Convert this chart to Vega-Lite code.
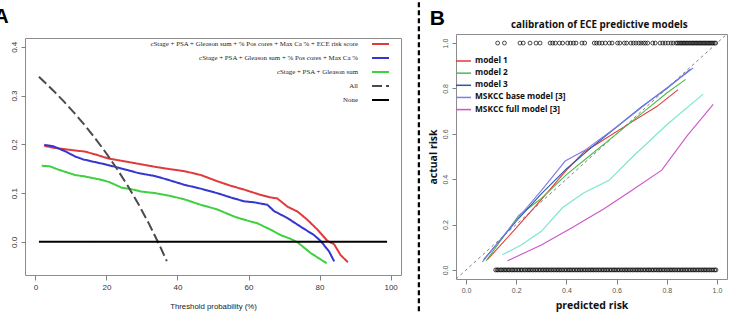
{
  "$schema": "https://vega.github.io/schema/vega-lite/v6.json",
  "padding": {"left": -7, "top": 0, "right": 0, "bottom": 0},
  "background": "white",
  "bounds": "flush",
  "center": true,
  "spacing": 55,
  "resolve": {
    "scale": {"color": "independent", "strokeDash": "independent", "strokeWidth": "independent"},
    "legend": {"color": "independent", "strokeDash": "independent"}
  },
  "config": {
    "view": {"stroke": "#8c8c8c", "strokeWidth": 1},
    "axis": {"grid": false, "domain": false}
  },
  "datasets": {
    "decision": [
      {"series": "cStage + PSA + Gleason sum + % Pos cores + Max Ca % + ECE risk score", "t": 2.5, "nb": 0.197},
      {"series": "cStage + PSA + Gleason sum + % Pos cores + Max Ca % + ECE risk score", "t": 5, "nb": 0.193},
      {"series": "cStage + PSA + Gleason sum + % Pos cores + Max Ca % + ECE risk score", "t": 9.3, "nb": 0.189},
      {"series": "cStage + PSA + Gleason sum + % Pos cores + Max Ca % + ECE risk score", "t": 14, "nb": 0.185},
      {"series": "cStage + PSA + Gleason sum + % Pos cores + Max Ca % + ECE risk score", "t": 17, "nb": 0.179},
      {"series": "cStage + PSA + Gleason sum + % Pos cores + Max Ca % + ECE risk score", "t": 20.5, "nb": 0.171},
      {"series": "cStage + PSA + Gleason sum + % Pos cores + Max Ca % + ECE risk score", "t": 25.2, "nb": 0.165},
      {"series": "cStage + PSA + Gleason sum + % Pos cores + Max Ca % + ECE risk score", "t": 29, "nb": 0.16},
      {"series": "cStage + PSA + Gleason sum + % Pos cores + Max Ca % + ECE risk score", "t": 33.6, "nb": 0.154},
      {"series": "cStage + PSA + Gleason sum + % Pos cores + Max Ca % + ECE risk score", "t": 37, "nb": 0.15},
      {"series": "cStage + PSA + Gleason sum + % Pos cores + Max Ca % + ECE risk score", "t": 41.9, "nb": 0.145},
      {"series": "cStage + PSA + Gleason sum + % Pos cores + Max Ca % + ECE risk score", "t": 46.6, "nb": 0.137},
      {"series": "cStage + PSA + Gleason sum + % Pos cores + Max Ca % + ECE risk score", "t": 51.3, "nb": 0.124},
      {"series": "cStage + PSA + Gleason sum + % Pos cores + Max Ca % + ECE risk score", "t": 55, "nb": 0.115},
      {"series": "cStage + PSA + Gleason sum + % Pos cores + Max Ca % + ECE risk score", "t": 58.8, "nb": 0.107},
      {"series": "cStage + PSA + Gleason sum + % Pos cores + Max Ca % + ECE risk score", "t": 63.5, "nb": 0.096},
      {"series": "cStage + PSA + Gleason sum + % Pos cores + Max Ca % + ECE risk score", "t": 66.3, "nb": 0.091},
      {"series": "cStage + PSA + Gleason sum + % Pos cores + Max Ca % + ECE risk score", "t": 68.1, "nb": 0.089},
      {"series": "cStage + PSA + Gleason sum + % Pos cores + Max Ca % + ECE risk score", "t": 71, "nb": 0.072},
      {"series": "cStage + PSA + Gleason sum + % Pos cores + Max Ca % + ECE risk score", "t": 73.8, "nb": 0.062},
      {"series": "cStage + PSA + Gleason sum + % Pos cores + Max Ca % + ECE risk score", "t": 76.6, "nb": 0.045},
      {"series": "cStage + PSA + Gleason sum + % Pos cores + Max Ca % + ECE risk score", "t": 79.4, "nb": 0.025},
      {"series": "cStage + PSA + Gleason sum + % Pos cores + Max Ca % + ECE risk score", "t": 82.2, "nb": 0.002},
      {"series": "cStage + PSA + Gleason sum + % Pos cores + Max Ca % + ECE risk score", "t": 84.1, "nb": -0.005},
      {"series": "cStage + PSA + Gleason sum + % Pos cores + Max Ca % + ECE risk score", "t": 85.9, "nb": -0.027},
      {"series": "cStage + PSA + Gleason sum + % Pos cores + Max Ca % + ECE risk score", "t": 88, "nb": -0.042},
      {"series": "cStage + PSA + Gleason sum + % Pos cores + Max Ca %", "t": 2.5, "nb": 0.199},
      {"series": "cStage + PSA + Gleason sum + % Pos cores + Max Ca %", "t": 5, "nb": 0.196},
      {"series": "cStage + PSA + Gleason sum + % Pos cores + Max Ca %", "t": 8.3, "nb": 0.186},
      {"series": "cStage + PSA + Gleason sum + % Pos cores + Max Ca %", "t": 11.2, "nb": 0.175},
      {"series": "cStage + PSA + Gleason sum + % Pos cores + Max Ca %", "t": 13.5, "nb": 0.169},
      {"series": "cStage + PSA + Gleason sum + % Pos cores + Max Ca %", "t": 15.9, "nb": 0.165},
      {"series": "cStage + PSA + Gleason sum + % Pos cores + Max Ca %", "t": 19, "nb": 0.16},
      {"series": "cStage + PSA + Gleason sum + % Pos cores + Max Ca %", "t": 22.4, "nb": 0.154},
      {"series": "cStage + PSA + Gleason sum + % Pos cores + Max Ca %", "t": 26, "nb": 0.147},
      {"series": "cStage + PSA + Gleason sum + % Pos cores + Max Ca %", "t": 29, "nb": 0.141},
      {"series": "cStage + PSA + Gleason sum + % Pos cores + Max Ca %", "t": 33.6, "nb": 0.135},
      {"series": "cStage + PSA + Gleason sum + % Pos cores + Max Ca %", "t": 37, "nb": 0.128},
      {"series": "cStage + PSA + Gleason sum + % Pos cores + Max Ca %", "t": 41.9, "nb": 0.117},
      {"series": "cStage + PSA + Gleason sum + % Pos cores + Max Ca %", "t": 46.6, "nb": 0.109},
      {"series": "cStage + PSA + Gleason sum + % Pos cores + Max Ca %", "t": 51.3, "nb": 0.0996},
      {"series": "cStage + PSA + Gleason sum + % Pos cores + Max Ca %", "t": 55, "nb": 0.091},
      {"series": "cStage + PSA + Gleason sum + % Pos cores + Max Ca %", "t": 58.8, "nb": 0.083},
      {"series": "cStage + PSA + Gleason sum + % Pos cores + Max Ca %", "t": 61.6, "nb": 0.081},
      {"series": "cStage + PSA + Gleason sum + % Pos cores + Max Ca %", "t": 65.3, "nb": 0.076},
      {"series": "cStage + PSA + Gleason sum + % Pos cores + Max Ca %", "t": 67.2, "nb": 0.063},
      {"series": "cStage + PSA + Gleason sum + % Pos cores + Max Ca %", "t": 70.9, "nb": 0.049},
      {"series": "cStage + PSA + Gleason sum + % Pos cores + Max Ca %", "t": 74.7, "nb": 0.031},
      {"series": "cStage + PSA + Gleason sum + % Pos cores + Max Ca %", "t": 78.4, "nb": 0.014},
      {"series": "cStage + PSA + Gleason sum + % Pos cores + Max Ca %", "t": 80.3, "nb": 0.002},
      {"series": "cStage + PSA + Gleason sum + % Pos cores + Max Ca %", "t": 82.7, "nb": -0.02},
      {"series": "cStage + PSA + Gleason sum + % Pos cores + Max Ca %", "t": 84.1, "nb": -0.04},
      {"series": "cStage + PSA + Gleason sum", "t": 1.8, "nb": 0.156},
      {"series": "cStage + PSA + Gleason sum", "t": 4, "nb": 0.155},
      {"series": "cStage + PSA + Gleason sum", "t": 6.5, "nb": 0.148},
      {"series": "cStage + PSA + Gleason sum", "t": 11.2, "nb": 0.137},
      {"series": "cStage + PSA + Gleason sum", "t": 14, "nb": 0.134},
      {"series": "cStage + PSA + Gleason sum", "t": 18.7, "nb": 0.127},
      {"series": "cStage + PSA + Gleason sum", "t": 21, "nb": 0.122},
      {"series": "cStage + PSA + Gleason sum", "t": 24.3, "nb": 0.111},
      {"series": "cStage + PSA + Gleason sum", "t": 27, "nb": 0.108},
      {"series": "cStage + PSA + Gleason sum", "t": 29.9, "nb": 0.103},
      {"series": "cStage + PSA + Gleason sum", "t": 33.6, "nb": 0.1},
      {"series": "cStage + PSA + Gleason sum", "t": 38.1, "nb": 0.094},
      {"series": "cStage + PSA + Gleason sum", "t": 42, "nb": 0.087},
      {"series": "cStage + PSA + Gleason sum", "t": 46.6, "nb": 0.0758},
      {"series": "cStage + PSA + Gleason sum", "t": 51, "nb": 0.067},
      {"series": "cStage + PSA + Gleason sum", "t": 55.9, "nb": 0.052},
      {"series": "cStage + PSA + Gleason sum", "t": 58, "nb": 0.047},
      {"series": "cStage + PSA + Gleason sum", "t": 62.5, "nb": 0.038},
      {"series": "cStage + PSA + Gleason sum", "t": 66.3, "nb": 0.0246},
      {"series": "cStage + PSA + Gleason sum", "t": 69, "nb": 0.014},
      {"series": "cStage + PSA + Gleason sum", "t": 71.9, "nb": 0.006},
      {"series": "cStage + PSA + Gleason sum", "t": 73.8, "nb": -0.001},
      {"series": "cStage + PSA + Gleason sum", "t": 77.5, "nb": -0.023},
      {"series": "cStage + PSA + Gleason sum", "t": 82, "nb": -0.044},
      {"series": "All", "t": 1, "nb": 0.3384},
      {"series": "All", "t": 3, "nb": 0.3247},
      {"series": "All", "t": 5, "nb": 0.3105},
      {"series": "All", "t": 8, "nb": 0.288},
      {"series": "All", "t": 11, "nb": 0.264},
      {"series": "All", "t": 14, "nb": 0.2384},
      {"series": "All", "t": 17, "nb": 0.2108},
      {"series": "All", "t": 20, "nb": 0.1812},
      {"series": "All", "t": 23, "nb": 0.1493},
      {"series": "All", "t": 26, "nb": 0.1149},
      {"series": "All", "t": 29, "nb": 0.0775},
      {"series": "All", "t": 32, "nb": 0.0368},
      {"series": "All", "t": 35, "nb": -0.0077},
      {"series": "All", "t": 37, "nb": -0.0397},
      {"series": "None", "t": 1, "nb": 0},
      {"series": "None", "t": 99, "nb": 0}
    ],
    "calibration": [
      {"model": "model 1", "p": 0.085, "a": 0.045},
      {"model": "model 1", "p": 0.2, "a": 0.185},
      {"model": "model 1", "p": 0.3, "a": 0.31},
      {"model": "model 1", "p": 0.4, "a": 0.44},
      {"model": "model 1", "p": 0.47, "a": 0.52},
      {"model": "model 1", "p": 0.55, "a": 0.575},
      {"model": "model 1", "p": 0.65, "a": 0.645},
      {"model": "model 1", "p": 0.76, "a": 0.72},
      {"model": "model 1", "p": 0.845, "a": 0.795},
      {"model": "model 2", "p": 0.08, "a": 0.04},
      {"model": "model 2", "p": 0.21, "a": 0.24},
      {"model": "model 2", "p": 0.3, "a": 0.315},
      {"model": "model 2", "p": 0.4, "a": 0.42},
      {"model": "model 2", "p": 0.5, "a": 0.51},
      {"model": "model 2", "p": 0.6, "a": 0.6},
      {"model": "model 2", "p": 0.7, "a": 0.69},
      {"model": "model 2", "p": 0.8, "a": 0.78},
      {"model": "model 2", "p": 0.875, "a": 0.84},
      {"model": "model 3", "p": 0.07, "a": 0.045},
      {"model": "model 3", "p": 0.2, "a": 0.215},
      {"model": "model 3", "p": 0.3, "a": 0.335},
      {"model": "model 3", "p": 0.4, "a": 0.445},
      {"model": "model 3", "p": 0.5, "a": 0.54},
      {"model": "model 3", "p": 0.6, "a": 0.63},
      {"model": "model 3", "p": 0.7, "a": 0.72},
      {"model": "model 3", "p": 0.8, "a": 0.8},
      {"model": "model 3", "p": 0.895, "a": 0.885},
      {"model": "MSKCC base model [3]", "p": 0.065, "a": 0.035},
      {"model": "MSKCC base model [3]", "p": 0.2, "a": 0.22},
      {"model": "MSKCC base model [3]", "p": 0.3, "a": 0.35},
      {"model": "MSKCC base model [3]", "p": 0.395, "a": 0.48},
      {"model": "MSKCC base model [3]", "p": 0.47, "a": 0.525},
      {"model": "MSKCC base model [3]", "p": 0.6, "a": 0.63},
      {"model": "MSKCC base model [3]", "p": 0.75, "a": 0.76},
      {"model": "MSKCC base model [3]", "p": 0.905, "a": 0.89},
      {"model": "MSKCC full model [3]", "p": 0.165, "a": 0.04},
      {"model": "MSKCC full model [3]", "p": 0.3, "a": 0.11},
      {"model": "MSKCC full model [3]", "p": 0.42, "a": 0.185},
      {"model": "MSKCC full model [3]", "p": 0.55, "a": 0.27},
      {"model": "MSKCC full model [3]", "p": 0.66, "a": 0.35},
      {"model": "MSKCC full model [3]", "p": 0.78, "a": 0.44},
      {"model": "MSKCC full model [3]", "p": 0.88, "a": 0.59},
      {"model": "MSKCC full model [3]", "p": 0.985, "a": 0.73},
      {"model": "extra model", "p": 0.145, "a": 0.067},
      {"model": "extra model", "p": 0.22, "a": 0.11},
      {"model": "extra model", "p": 0.3, "a": 0.17},
      {"model": "extra model", "p": 0.385, "a": 0.275},
      {"model": "extra model", "p": 0.47, "a": 0.34},
      {"model": "extra model", "p": 0.57, "a": 0.395},
      {"model": "extra model", "p": 0.665, "a": 0.5},
      {"model": "extra model", "p": 0.8, "a": 0.64},
      {"model": "extra model", "p": 0.945, "a": 0.775}
    ],
    "outcomes": [
      {"p": 0.126, "a": 1}, {"p": 0.153, "a": 1}, {"p": 0.215, "a": 1}, {"p": 0.228, "a": 1}, {"p": 0.255, "a": 1},
      {"p": 0.279, "a": 1}, {"p": 0.295, "a": 1}, {"p": 0.335, "a": 1}, {"p": 0.345, "a": 1}, {"p": 0.356, "a": 1},
      {"p": 0.372, "a": 1}, {"p": 0.385, "a": 1}, {"p": 0.405, "a": 1}, {"p": 0.416, "a": 1}, {"p": 0.428, "a": 1},
      {"p": 0.438, "a": 1}, {"p": 0.462, "a": 1}, {"p": 0.473, "a": 1}, {"p": 0.511, "a": 1}, {"p": 0.52, "a": 1},
      {"p": 0.531, "a": 1}, {"p": 0.542, "a": 1}, {"p": 0.555, "a": 1}, {"p": 0.571, "a": 1}, {"p": 0.582, "a": 1},
      {"p": 0.604, "a": 1}, {"p": 0.613, "a": 1}, {"p": 0.631, "a": 1}, {"p": 0.64, "a": 1}, {"p": 0.657, "a": 1},
      {"p": 0.667, "a": 1}, {"p": 0.677, "a": 1}, {"p": 0.688, "a": 1}, {"p": 0.697, "a": 1}, {"p": 0.707, "a": 1},
      {"p": 0.715, "a": 1}, {"p": 0.724, "a": 1}, {"p": 0.744, "a": 1}, {"p": 0.754, "a": 1}, {"p": 0.773, "a": 1},
      {"p": 0.784, "a": 1}, {"p": 0.794, "a": 1}, {"p": 0.805, "a": 1}, {"p": 0.817, "a": 1}, {"p": 0.826, "a": 1},
      {"p": 0.837, "a": 1}, {"p": 0.843, "a": 1}, {"p": 0.849, "a": 1}, {"p": 0.855, "a": 1}, {"p": 0.86, "a": 1},
      {"p": 0.866, "a": 1}, {"p": 0.871, "a": 1}, {"p": 0.877, "a": 1}, {"p": 0.882, "a": 1}, {"p": 0.888, "a": 1},
      {"p": 0.893, "a": 1}, {"p": 0.899, "a": 1}, {"p": 0.904, "a": 1}, {"p": 0.909, "a": 1}, {"p": 0.915, "a": 1},
      {"p": 0.92, "a": 1}, {"p": 0.925, "a": 1}, {"p": 0.931, "a": 1}, {"p": 0.936, "a": 1}, {"p": 0.941, "a": 1},
      {"p": 0.947, "a": 1}, {"p": 0.952, "a": 1}, {"p": 0.957, "a": 1}, {"p": 0.963, "a": 1}, {"p": 0.968, "a": 1},
      {"p": 0.973, "a": 1}, {"p": 0.979, "a": 1}, {"p": 0.984, "a": 1}, {"p": 0.99, "a": 1}, {"p": 0.995, "a": 1},
      {"p": 0.118, "a": 0}, {"p": 0.124, "a": 0}, {"p": 0.129, "a": 0}, {"p": 0.137, "a": 0}, {"p": 0.142, "a": 0},
      {"p": 0.149, "a": 0}, {"p": 0.155, "a": 0}, {"p": 0.161, "a": 0}, {"p": 0.168, "a": 0}, {"p": 0.173, "a": 0},
      {"p": 0.181, "a": 0}, {"p": 0.186, "a": 0}, {"p": 0.193, "a": 0}, {"p": 0.199, "a": 0}, {"p": 0.206, "a": 0},
      {"p": 0.212, "a": 0}, {"p": 0.219, "a": 0}, {"p": 0.224, "a": 0}, {"p": 0.232, "a": 0}, {"p": 0.238, "a": 0},
      {"p": 0.245, "a": 0}, {"p": 0.251, "a": 0}, {"p": 0.257, "a": 0}, {"p": 0.264, "a": 0}, {"p": 0.27, "a": 0},
      {"p": 0.277, "a": 0}, {"p": 0.283, "a": 0}, {"p": 0.29, "a": 0}, {"p": 0.296, "a": 0}, {"p": 0.303, "a": 0},
      {"p": 0.309, "a": 0}, {"p": 0.316, "a": 0}, {"p": 0.322, "a": 0}, {"p": 0.328, "a": 0}, {"p": 0.335, "a": 0},
      {"p": 0.341, "a": 0}, {"p": 0.348, "a": 0}, {"p": 0.354, "a": 0}, {"p": 0.361, "a": 0}, {"p": 0.367, "a": 0},
      {"p": 0.373, "a": 0}, {"p": 0.38, "a": 0}, {"p": 0.386, "a": 0}, {"p": 0.393, "a": 0}, {"p": 0.399, "a": 0},
      {"p": 0.406, "a": 0}, {"p": 0.412, "a": 0}, {"p": 0.418, "a": 0}, {"p": 0.425, "a": 0}, {"p": 0.431, "a": 0},
      {"p": 0.438, "a": 0}, {"p": 0.444, "a": 0}, {"p": 0.451, "a": 0}, {"p": 0.457, "a": 0}, {"p": 0.463, "a": 0},
      {"p": 0.47, "a": 0}, {"p": 0.476, "a": 0}, {"p": 0.483, "a": 0}, {"p": 0.489, "a": 0}, {"p": 0.496, "a": 0},
      {"p": 0.502, "a": 0}, {"p": 0.508, "a": 0}, {"p": 0.515, "a": 0}, {"p": 0.521, "a": 0}, {"p": 0.528, "a": 0},
      {"p": 0.534, "a": 0}, {"p": 0.541, "a": 0}, {"p": 0.547, "a": 0}, {"p": 0.553, "a": 0}, {"p": 0.56, "a": 0},
      {"p": 0.566, "a": 0}, {"p": 0.573, "a": 0}, {"p": 0.579, "a": 0}, {"p": 0.586, "a": 0}, {"p": 0.592, "a": 0},
      {"p": 0.598, "a": 0}, {"p": 0.605, "a": 0}, {"p": 0.611, "a": 0}, {"p": 0.618, "a": 0}, {"p": 0.624, "a": 0},
      {"p": 0.631, "a": 0}, {"p": 0.637, "a": 0}, {"p": 0.643, "a": 0}, {"p": 0.65, "a": 0}, {"p": 0.656, "a": 0},
      {"p": 0.663, "a": 0}, {"p": 0.669, "a": 0}, {"p": 0.676, "a": 0}, {"p": 0.682, "a": 0}, {"p": 0.688, "a": 0},
      {"p": 0.695, "a": 0}, {"p": 0.701, "a": 0}, {"p": 0.708, "a": 0}, {"p": 0.714, "a": 0}, {"p": 0.721, "a": 0},
      {"p": 0.727, "a": 0}, {"p": 0.733, "a": 0}, {"p": 0.74, "a": 0}, {"p": 0.746, "a": 0}, {"p": 0.753, "a": 0},
      {"p": 0.759, "a": 0}, {"p": 0.766, "a": 0}, {"p": 0.772, "a": 0}, {"p": 0.778, "a": 0}, {"p": 0.785, "a": 0},
      {"p": 0.791, "a": 0}, {"p": 0.798, "a": 0}, {"p": 0.804, "a": 0}, {"p": 0.811, "a": 0}, {"p": 0.817, "a": 0},
      {"p": 0.823, "a": 0}, {"p": 0.83, "a": 0}, {"p": 0.836, "a": 0}, {"p": 0.843, "a": 0}, {"p": 0.849, "a": 0},
      {"p": 0.856, "a": 0}, {"p": 0.862, "a": 0}, {"p": 0.868, "a": 0}, {"p": 0.875, "a": 0}, {"p": 0.881, "a": 0},
      {"p": 0.888, "a": 0}, {"p": 0.894, "a": 0}, {"p": 0.901, "a": 0}, {"p": 0.907, "a": 0}, {"p": 0.913, "a": 0},
      {"p": 0.92, "a": 0}, {"p": 0.926, "a": 0}, {"p": 0.933, "a": 0}, {"p": 0.939, "a": 0}, {"p": 0.946, "a": 0},
      {"p": 0.952, "a": 0}, {"p": 0.958, "a": 0}, {"p": 0.965, "a": 0}, {"p": 0.971, "a": 0}, {"p": 0.978, "a": 0},
      {"p": 0.984, "a": 0}, {"p": 0.991, "a": 0}, {"p": 0.996, "a": 0}
    ]
  },
  "hconcat": [
    {
      "width": 376,
      "height": 237,
      "layer": [
        {
          "data": {"name": "decision"},
          "mark": {"type": "line", "interpolate": "linear"},
          "encoding": {
            "x": {
              "field": "t", "type": "quantitative",
              "scale": {"domain": [-2.92, 102.92], "nice": false, "zero": false},
              "axis": {"values": [0, 20, 40, 60, 80, 100], "title": "Threshold probability (%)", "titleFont": "Liberation Sans", "titleFontSize": 7.8, "titleFontWeight": "normal", "titleColor": "#222222", "titlePadding": 11, "labelFont": "Liberation Sans", "labelFontSize": 8, "labelColor": "#333333", "tickColor": "#808080", "tickSize": 5, "labelPadding": 3, "labelAngle": 0}
            },
            "y": {
              "field": "nb", "type": "quantitative",
              "scale": {"domain": [-0.068, 0.418], "nice": false, "zero": false},
              "axis": {"values": [0, 0.1, 0.2, 0.3, 0.4], "format": ".1f", "title": null, "labelFont": "Liberation Sans", "labelFontSize": 8, "labelColor": "#333333", "tickColor": "#808080", "tickSize": 4, "labelPadding": 5, "labelAngle": 270, "labelAlign": "center", "labelBaseline": "alphabetic"}
            },
            "color": {
              "field": "series", "type": "nominal",
              "scale": {
                "domain": ["cStage + PSA + Gleason sum + % Pos cores + Max Ca % + ECE risk score", "cStage + PSA + Gleason sum + % Pos cores + Max Ca %", "cStage + PSA + Gleason sum", "All", "None"],
                "range": ["#e03a3a", "#3535cf", "#3fd03f", "#4a4a4a", "#000000"]
              },
              "legend": {
                "title": null, "orient": "none", "legendX": 96, "legendY": -3.5,
                "symbolType": "stroke", "symbolSize": 289, "symbolStrokeWidth": 1.5,
                "labelAlign": "right", "labelOffset": -32, "symbolOffset": 250, "labelLimit": 400,
                "labelFont": "Liberation Serif", "labelFontSize": 6.9, "labelColor": "#222222",
                "rowPadding": 0, "padding": 0,
                "encode": {"symbols": {"update": {"strokeDash": {"signal": "datum.value === 'All' ? [3, 2.5] : [1, 0]"}}}}
              }
            },
            "strokeDash": {
              "field": "series", "type": "nominal",
              "scale": {
                "domain": ["cStage + PSA + Gleason sum + % Pos cores + Max Ca % + ECE risk score", "cStage + PSA + Gleason sum + % Pos cores + Max Ca %", "cStage + PSA + Gleason sum", "All", "None"],
                "range": [[1, 0], [1, 0], [1, 0], [10, 4], [1, 0]]
              }
            },
            "strokeWidth": {
              "field": "series", "type": "nominal",
              "scale": {
                "domain": ["cStage + PSA + Gleason sum + % Pos cores + Max Ca % + ECE risk score", "cStage + PSA + Gleason sum + % Pos cores + Max Ca %", "cStage + PSA + Gleason sum", "All", "None"],
                "range": [2, 2, 2, 1.4, 1.4]
              },
              "legend": null
            }
          }
        },
        {
          "data": {"values": [{"k": 0}]},
          "mark": {"type": "text", "text": "A", "font": "Liberation Sans", "fontSize": 20, "fontWeight": "bold", "align": "left", "baseline": "alphabetic", "color": "#000000"},
          "encoding": {
            "x": {"datum": -11.6, "type": "quantitative"},
            "y": {"datum": 0.4494, "type": "quantitative"}
          }
        }
      ]
    },
    {
      "width": 271,
      "height": 245,
      "layer": [
        {
          "data": {"name": "outcomes"},
          "mark": {"type": "point", "shape": "circle", "filled": false, "size": 15, "color": "#000000", "strokeWidth": 0.7, "opacity": 1},
          "encoding": {
            "x": {
              "field": "p", "type": "quantitative",
              "scale": {"domain": [-0.04, 1.04], "nice": false, "zero": false},
              "axis": {"values": [0, 0.2, 0.4, 0.6, 0.8, 1], "format": ".1f", "title": "predicted risk", "titleFont": "Open Sans", "titleFontSize": 10.5, "titleFontWeight": "bold", "titleColor": "#111111", "titlePadding": 7, "labelFont": "Liberation Sans", "labelFontSize": 7, "labelColor": "#555555", "tickColor": "#808080", "tickSize": 5, "labelPadding": 2, "labelAngle": 0}
            },
            "y": {
              "field": "a", "type": "quantitative",
              "scale": {"domain": [-0.04, 1.04], "nice": false, "zero": false},
              "axis": {"values": [0, 0.2, 0.4, 0.6, 0.8, 1], "format": ".1f", "title": "actual risk", "titleFont": "Open Sans", "titleFontSize": 10.5, "titleFontWeight": "bold", "titleColor": "#111111", "titlePadding": 3, "labelFont": "Liberation Sans", "labelFontSize": 7, "labelColor": "#555555", "tickColor": "#808080", "tickSize": 4, "labelPadding": 5, "labelAngle": 270, "labelAlign": "center", "labelBaseline": "alphabetic"}
            }
          }
        },
        {
          "data": {"values": [{"k": 0}]},
          "mark": {"type": "rule", "color": "#808080", "strokeWidth": 1, "strokeDash": [3, 3]},
          "encoding": {
            "x": {"datum": -0.04, "type": "quantitative"},
            "y": {"datum": -0.04, "type": "quantitative"},
            "x2": {"datum": 1.04},
            "y2": {"datum": 1.04}
          }
        },
        {
          "data": {"name": "calibration"},
          "transform": [{"filter": "datum.model === 'extra model'"}],
          "mark": {"type": "line", "color": "#7de6d2", "strokeWidth": 1.2},
          "encoding": {
            "x": {"field": "p", "type": "quantitative"},
            "y": {"field": "a", "type": "quantitative"}
          }
        },
        {
          "data": {"name": "calibration"},
          "transform": [{"filter": "datum.model !== 'extra model'"}],
          "mark": {"type": "line", "strokeWidth": 1.1},
          "encoding": {
            "x": {"field": "p", "type": "quantitative"},
            "y": {"field": "a", "type": "quantitative"},
            "color": {
              "field": "model", "type": "nominal",
              "scale": {
                "domain": ["model 1", "model 2", "model 3", "MSKCC base model [3]", "MSKCC full model [3]"],
                "range": ["#e23b3b", "#4cbb4c", "#2d56b0", "#7d7de8", "#cc55cc"]
              },
              "legend": {
                "title": null, "orient": "none", "legendX": -1, "legendY": 18.5,
                "symbolType": "stroke", "symbolSize": 225, "symbolStrokeWidth": 1.5,
                "labelFont": "Open Sans", "labelFontSize": 8.3, "labelFontWeight": "bold", "labelColor": "#111111",
                "labelAlign": "left", "labelOffset": 3, "symbolOffset": 0, "rowPadding": 0.15, "padding": 0, "labelLimit": 300
              }
            }
          }
        },
        {
          "data": {"values": [{"k": 0}]},
          "mark": {"type": "text", "text": "calibration of ECE predictive models", "font": "Open Sans", "fontSize": 9.9, "fontWeight": "bold", "align": "center", "baseline": "alphabetic", "color": "#111111"},
          "encoding": {
            "x": {"datum": 0.531, "type": "quantitative"},
            "y": {"datum": 1.066, "type": "quantitative"}
          }
        },
        {
          "data": {"values": [{"k": 0}]},
          "mark": {"type": "text", "text": "B", "font": "Liberation Sans", "fontSize": 21, "fontWeight": "bold", "align": "left", "baseline": "alphabetic", "color": "#000000"},
          "encoding": {
            "x": {"datum": -0.145, "type": "quantitative"},
            "y": {"datum": 1.079, "type": "quantitative"}
          }
        },
        {
          "data": {"values": [{"k": 0}]},
          "mark": {"type": "rule", "color": "#000000", "strokeWidth": 2.2, "strokeDash": [5, 3]},
          "encoding": {
            "x": {"datum": -0.188, "type": "quantitative"},
            "y": {"datum": 1.18, "type": "quantitative"},
            "y2": {"datum": -0.19}
          }
        }
      ]
    }
  ]
}
